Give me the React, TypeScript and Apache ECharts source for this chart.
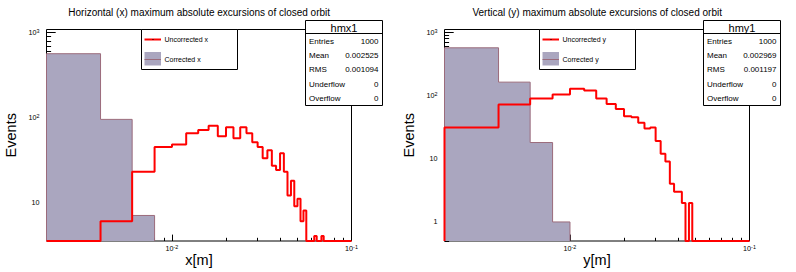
import React, { useEffect, useRef } from "react";
import * as echarts from "echarts";

const FONT = '"Liberation Sans", Arial, Helvetica, sans-serif';

// ---- histogram binning (metres) ----
const BIN_WIDTH = 0.002;
const FIRST_BIN_LOW = 0.002;
const X_RANGE = [0.002, 0.1];

// ---- horizontal (x) panel ----
const uncorrectedX = [
  0, 6, 23, 45, 48, 65, 71, 80, 60, 77, 57, 77, 65, 51, 45, 33, 41, 27, 24, 38,
  23, 12, 18, 9, 11, 6, 8, 0, 0, 0, 4, 0, 0, 4, 0, 0, 0, 0, 0, 0,
  0, 0, 0, 0, 0, 0, 0, 0, 0,
];
const correctedX = [565, 95, 7];
const yRangeX = [3.5, 1090];
const statsValuesX = ["1000", "0.002525", "0.001094", "0", "0"];

// ---- vertical (y) panel ----
const uncorrectedY = [
  31, 72, 89, 103, 127, 120, 89, 73, 61, 47, 45, 37, 30, 31, 19, 12, 9, 4, 3, 3,
  2, 0, 2, 0, 0, 0, 0, 0, 0, 0, 0, 0, 0, 0, 0, 0, 0, 0, 0, 0,
  0, 0, 0, 0, 0, 0, 0, 0, 0,
];
const correctedY = [565, 162, 18, 1];
const yRangeY = [0.5, 1100];
const statsValuesY = ["1000", "0.002969", "0.001197", "0", "0"];

const statsLabels = ["Entries", "Mean", "RMS", "Underflow", "Overflow"];

// ---- tick positions / labels ----
const xMajorTicks = [0.01, 0.1];
const xMinorTicks = [
  0.002, 0.003, 0.004, 0.005, 0.006, 0.007, 0.008, 0.009,
  0.02, 0.03, 0.04, 0.05, 0.06, 0.07, 0.08, 0.09,
];
const yMajorTicksX = [10, 100, 1000];
const yMajorTicksY = [1, 10, 100, 1000];
const yMinorTicks = [
  0.5, 0.6, 0.7, 0.8, 0.9,
  2, 3, 4, 5, 6, 7, 8, 9,
  20, 30, 40, 50, 60, 70, 80, 90,
  200, 300, 400, 500, 600, 700, 800, 900,
];

const RED = "#ff0000";
const FILL = "#aaa6bf";
const OUTLINE = "#9b6b7b";

const lg = (v: number) => Math.log10(v);

function stepData(counts: number[], yLow: number) {
  const floor = lg(yLow);
  const pts: number[][] = [[lg(FIRST_BIN_LOW), floor]];
  counts.forEach((c, i) => {
    pts.push([lg(FIRST_BIN_LOW + i * BIN_WIDTH), c > 0 ? Math.max(lg(c), floor) : floor]);
  });
  const end = Math.min(FIRST_BIN_LOW + counts.length * BIN_WIDTH, X_RANGE[1]);
  pts.push([lg(end), floor]);
  return pts;
}

const powerLabel = (v: number) => {
  const n = Math.round(v);
  if (n === 0) return "{b|1}";
  if (n === 1) return "{b|10}";
  return `{b|10}{s|${n}}`;
};

const rich = {
  b: { fontSize: 7.2, lineHeight: 8, padding: [3, 0, 3, 0], fontFamily: FONT, color: "#000" },
  s: { fontSize: 5.4, lineHeight: 6, verticalAlign: "top", fontFamily: FONT, color: "#000" },
};

const tickLine = { color: "#000", width: 1 };

function xAxes(g: number, name: string) {
  const base = {
    type: "value",
    gridIndex: g,
    position: "bottom",
    min: lg(X_RANGE[0]),
    max: lg(X_RANGE[1]),
    axisLine: { show: false, onZero: false },
    splitLine: { show: false },
  };
  return [
    {
      ...base,
      axisTick: { show: true, inside: true, length: 3.2, lineStyle: tickLine, customValues: xMinorTicks.map(lg) },
      axisLabel: { show: false },
      name,
      nameLocation: "middle",
      nameGap: 11,
      nameTextStyle: { fontSize: 14.5, color: "#000", fontFamily: FONT },
    },
    {
      ...base,
      axisTick: { show: true, inside: true, length: 6.4, lineStyle: tickLine, customValues: xMajorTicks.map(lg) },
      axisLabel: { show: true, customValues: xMajorTicks.map(lg), formatter: powerLabel, margin: 3, rich },
    },
  ];
}

function yAxes(g: number, range: number[], majors: number[]) {
  const base = {
    type: "value",
    gridIndex: g,
    position: "left",
    min: lg(range[0]),
    max: lg(range[1]),
    axisLine: { show: false, onZero: false },
    splitLine: { show: false },
  };
  return [
    {
      ...base,
      axisTick: { show: true, inside: true, length: 4.6, lineStyle: tickLine, customValues: yMinorTicks.map(lg) },
      axisLabel: { show: false },
      name: "Events",
      nameLocation: "middle",
      nameRotate: 90,
      nameGap: 28,
      nameTextStyle: { fontSize: 14.5, color: "#000", fontFamily: FONT },
    },
    {
      ...base,
      axisTick: { show: true, inside: true, length: 9.2, lineStyle: tickLine, customValues: majors.map(lg) },
      axisLabel: { show: true, customValues: majors.map(lg), formatter: powerLabel, margin: 7, rich },
    },
  ];
}

function txt(text: string, x: number, y: number, size: number, align = "left") {
  return {
    type: "text",
    x,
    y,
    z: 20,
    silent: true,
    style: {
      text,
      fill: "#000",
      fontSize: size,
      fontFamily: FONT,
      textAlign: align,
      textVerticalAlign: "middle",
    },
  };
}

function panelGraphics(dx: number, title: string, leg: string[], statName: string, statValues: string[]) {
  const els: any[] = [];
  els.push(txt(title, 199.2 + dx, 12.5, 10, "center"));
  // legend
  els.push({
    type: "rect", z: 15, silent: true,
    shape: { x: 141.5 + dx, y: 29.5, width: 96, height: 40 },
    style: { fill: "#fff", stroke: "#000", lineWidth: 1 },
  });
  els.push({
    type: "line", z: 16, silent: true,
    shape: { x1: 144.5 + dx, y1: 39.5, x2: 161 + dx, y2: 39.5 },
    style: { stroke: RED, lineWidth: 2 },
  });
  els.push({
    type: "rect", z: 17, silent: true,
    shape: { x: 152.5 + dx, y: 39, width: 1, height: 1 },
    style: { fill: "#000" },
  });
  els.push(txt(leg[0], 164.5 + dx, 39.5, 7));
  els.push({
    type: "rect", z: 16, silent: true,
    shape: { x: 144.5 + dx, y: 52, width: 16.5, height: 13.5 },
    style: { fill: FILL },
  });
  els.push({
    type: "line", z: 17, silent: true,
    shape: { x1: 144.5 + dx, y1: 59.5, x2: 161 + dx, y2: 59.5 },
    style: { stroke: OUTLINE, lineWidth: 1 },
  });
  els.push(txt(leg[1], 164.5 + dx, 59.5, 7));
  // stats box
  els.push({
    type: "rect", z: 15, silent: true,
    shape: { x: 305.5 + dx, y: 20.5, width: 77, height: 85 },
    style: { fill: "#fff", stroke: "#000", lineWidth: 1 },
  });
  els.push({
    type: "line", z: 16, silent: true,
    shape: { x1: 305.5 + dx, y1: 33.5, x2: 382.5 + dx, y2: 33.5 },
    style: { stroke: "#000", lineWidth: 1 },
  });
  els.push(txt(statName, 344 + dx, 27.5, 11, "center"));
  statsLabels.forEach((l, i) => {
    const y = 41 + i * 14.4;
    els.push(txt(l, 309 + dx, y, 8));
    els.push(txt(statValues[i], 378.5 + dx, y, 8, "right"));
  });
  return els;
}

function seriesFor(p: number, corrected: number[], uncorrected: number[], range: number[]) {
  return [
    {
      type: "line",
      xAxisIndex: 2 * p,
      yAxisIndex: 2 * p,
      step: "end",
      data: stepData(corrected, range[0]),
      symbol: "none",
      silent: true,
      lineStyle: { color: OUTLINE, width: 1 },
      areaStyle: { color: FILL, opacity: 1, origin: "start" },
      z: 2,
    },
    {
      type: "line",
      xAxisIndex: 2 * p,
      yAxisIndex: 2 * p,
      step: "end",
      data: stepData(uncorrected, range[0]),
      symbol: "none",
      silent: true,
      clip: false,
      lineStyle: { color: RED, width: 2 },
      z: 3,
    },
  ];
}

const gridBase = {
  top: 29.5,
  width: 305,
  height: 212,
  show: true,
  borderColor: "#000",
  borderWidth: 1,
  backgroundColor: "transparent",
};

const option = {
  animation: false,
  textStyle: { fontFamily: FONT },
  grid: [
    { ...gridBase, left: 46.5 },
    { ...gridBase, left: 444.5 },
  ],
  xAxis: [...xAxes(0, "x[m]"), ...xAxes(1, "y[m]")],
  yAxis: [...yAxes(0, yRangeX, yMajorTicksX), ...yAxes(1, yRangeY, yMajorTicksY)],
  series: [
    ...seriesFor(0, correctedX, uncorrectedX, yRangeX),
    ...seriesFor(1, correctedY, uncorrectedY, yRangeY),
  ],
  graphic: [
    ...panelGraphics(0, "Horizontal (x) maximum absolute excursions of closed orbit", ["Uncorrected x", "Corrected x"], "hmx1", statsValuesX),
    ...panelGraphics(398, "Vertical (y) maximum absolute excursions of closed orbit", ["Uncorrected y", "Corrected y"], "hmy1", statsValuesY),
  ],
};

export default function App() {
  const ref = useRef<HTMLDivElement>(null);
  useEffect(() => {
    document.body.style.margin = "0";
    const chart = echarts.init(ref.current as HTMLDivElement, undefined, { renderer: "svg" });
    chart.setOption(option as any);
    return () => chart.dispose();
  }, []);
  return <div ref={ref} style={{ width: 796, height: 272, background: "#fff" }} />;
}
